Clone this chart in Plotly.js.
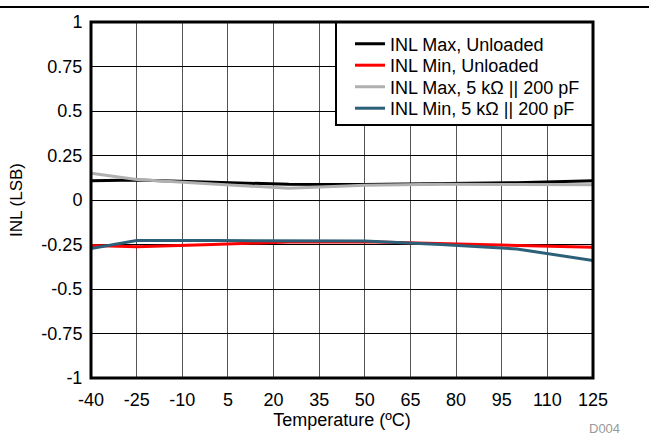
<!DOCTYPE html>
<html>
<head>
<meta charset="utf-8">
<script src="https://cdn.plot.ly/plotly-3.0.1.min.js"></script>
<style>html,body{margin:0;padding:0;background:#fff;}#chart{width:649px;height:435px;}</style>
</head>
<body>
<div id="chart"></div>
<script>
const temperature = [-40, -25, 0, 25, 50, 75, 100, 125];
const inlMaxUnloaded = [0.108, 0.112, 0.100, 0.088, 0.087, 0.090, 0.097, 0.108];
const inlMinUnloaded = [-0.255, -0.262, -0.250, -0.236, -0.235, -0.245, -0.258, -0.265];
const inlMax5k = [0.150, 0.115, 0.090, 0.066, 0.083, 0.088, 0.087, 0.085];
const inlMin5k = [-0.272, -0.228, -0.228, -0.229, -0.230, -0.250, -0.275, -0.340];
const names = ['INL Max, Unloaded', 'INL Min, Unloaded', 'INL Max, 5 kΩ || 200 pF', 'INL Min, 5 kΩ || 200 pF'];
const colors = ['#000000', '#ff0000', '#b0b0b0', '#2c5f78'];
const series = [inlMaxUnloaded, inlMinUnloaded, inlMax5k, inlMin5k];
const xTicks = [-40, -25, -10, 5, 20, 35, 50, 65, 80, 95, 110, 125];
const yTicks = [-1, -0.75, -0.5, -0.25, 0, 0.25, 0.5, 0.75, 1];

const legendIds = ['legend', 'legend2', 'legend3', 'legend4'];
const traces = series.map((s, i) => ({
  x: temperature, y: s, name: names[i], type: 'scatter', mode: 'lines',
  line: {color: colors[i], width: 3}, legend: legendIds[i]
}));

const W = 649, H = 435, L = 91, R = 56, T = 22, B = 57;
const pw = W - L - R, ph = H - T - B;
const px = v => (v - L) / pw;
const py = v => (H - B - v) / ph;

const rowY = [44, 65.5, 87, 108.5];
const legendBase = {xanchor: 'left', yanchor: 'middle', bgcolor: 'rgba(0,0,0,0)', borderwidth: 0,
                    font: {size: 18}, tracegroupgap: 0};

const layout = {
  width: W, height: H,
  margin: {l: L, r: R, t: T, b: B, pad: 0},
  paper_bgcolor: '#fff', plot_bgcolor: '#fff',
  font: {family: 'Liberation Sans, Arial, sans-serif', size: 18, color: '#000'},
  showlegend: true,
  xaxis: {range: [-40, 125], tickmode: 'array', tickvals: xTicks, ticktext: xTicks.map(String),
          showgrid: true, gridcolor: '#555', gridwidth: 1, zeroline: false,
          ticks: 'outside', ticklen: 5, tickcolor: 'rgba(0,0,0,0)', tickfont: {size: 18},
          showline: false, title: {text: 'Temperature (ºC)', font: {size: 18}, standoff: 0}},
  yaxis: {range: [-1, 1], tickmode: 'array', tickvals: yTicks, ticktext: yTicks.map(String),
          showgrid: true, gridcolor: '#000', gridwidth: 1, zeroline: false,
          ticks: 'outside', ticklen: 4, tickcolor: 'rgba(0,0,0,0)', tickfont: {size: 18},
          showline: false, title: {text: 'INL (LSB)', font: {size: 17}, standoff: 14}},
  shapes: [
    {type: 'rect', xref: 'paper', yref: 'paper', x0: px(336), x1: 1, y0: py(125), y1: 1,
     fillcolor: '#fff', line: {color: '#000', width: 2}, layer: 'above'},
    {type: 'rect', xref: 'paper', yref: 'paper', x0: 0, x1: 1, y0: 0, y1: 1,
     line: {color: '#000', width: 3}, layer: 'above'},
    {type: 'line', xref: 'paper', yref: 'paper', x0: px(0), x1: px(649), y0: py(7), y1: py(7),
     line: {color: '#000', width: 2}, layer: 'above'}
  ],
  annotations: [
    {text: 'D004', xref: 'paper', yref: 'paper', x: px(604), y: py(428), showarrow: false,
     font: {size: 13, color: '#999'}, xanchor: 'center', yanchor: 'middle'}
  ]
};
legendIds.forEach((id, i) => {
  layout[id] = Object.assign({}, legendBase, {x: px(350), y: py(rowY[i])});
});

Plotly.newPlot('chart', traces, layout, {displayModeBar: false, staticPlot: true});
</script>
</body>
</html>
